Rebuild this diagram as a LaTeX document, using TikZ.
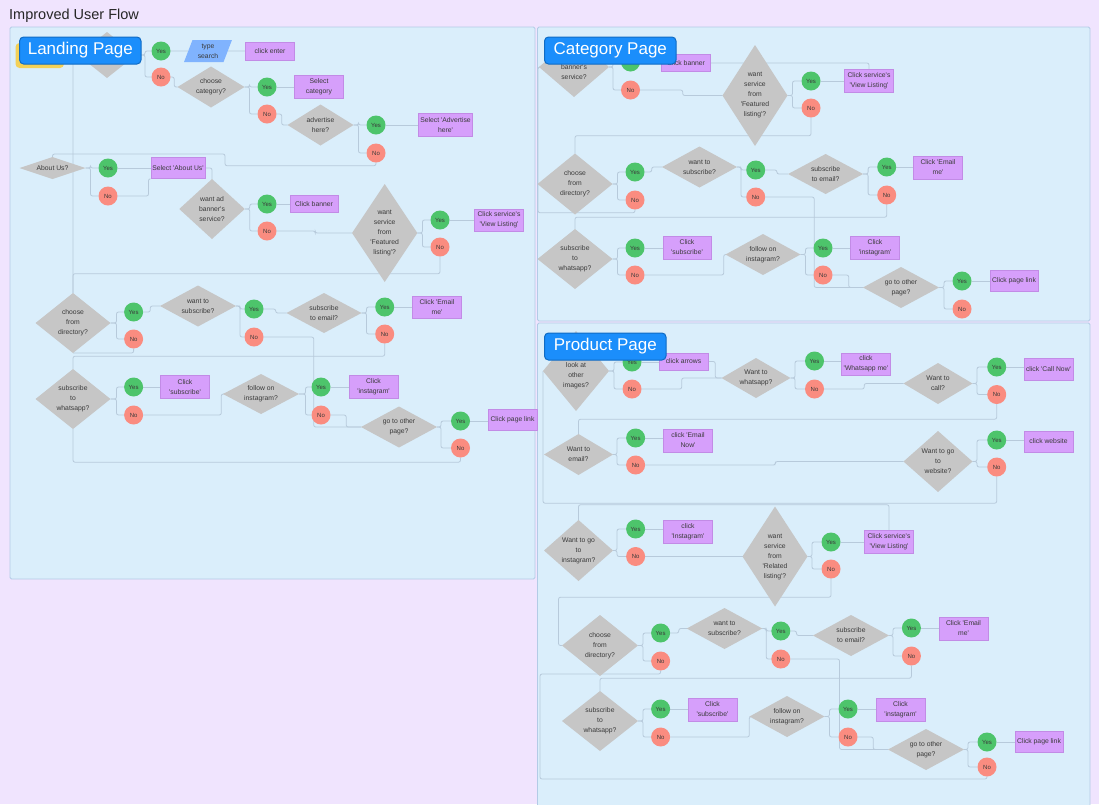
\documentclass[tikz,border=0pt]{standalone}
\usepackage{fontspec}
\setmainfont{Liberation Sans}[Ligatures=TeXOff]
\usetikzlibrary{shapes.geometric}
\pgfdeclarelayer{back}
\pgfdeclarelayer{lines}
\pgfdeclarelayer{front}
\pgfsetlayers{back,lines,main,front}

\definecolor{bgc}{HTML}{F0E4FE}
\definecolor{panelc}{HTML}{DAEEFB}
\definecolor{paneld}{HTML}{B3CBE6}
\definecolor{diac}{HTML}{C6C6C6}
\definecolor{yescol}{HTML}{4DC46B}
\definecolor{nocol}{HTML}{FA8C80}
\definecolor{actc}{HTML}{D69FFB}
\definecolor{actd}{HTML}{C28BE6}
\definecolor{linec}{HTML}{B7CADB}
\definecolor{badgec}{HTML}{1B8EFB}
\definecolor{badged}{HTML}{0F6BC4}
\definecolor{yelc}{HTML}{F3D157}
\definecolor{parac}{HTML}{80B3FE}
\definecolor{txtc}{HTML}{3A3A3A}
\definecolor{titc}{HTML}{262626}

\tikzset{
  panel/.style={fill=panelc, draw=paneld, line width=0.8pt, rounded corners=1.5pt},
  diashape/.style={diamond, fill=diac, draw=none, inner sep=0pt, outer sep=0pt},
  dtext/.style={align=center, text=txtc, font=\fontsize{6.8}{10}\selectfont, inner sep=0pt},
  yesn/.style={circle, fill=yescol, minimum size=19pt, inner sep=0pt, text=txtc, font=\fontsize{6}{7}\selectfont},
  non/.style={circle, fill=nocol, minimum size=19pt, inner sep=0pt, text=txtc, font=\fontsize{6}{7}\selectfont},
  act/.style={rectangle, fill=actc, draw=actd, line width=0.5pt, inner sep=0pt, align=center, text=txtc, font=\fontsize{6.8}{10}\selectfont},
  para/.style={trapezium, trapezium left angle=69, trapezium right angle=111, trapezium stretches=true,
    minimum width=48pt, minimum height=22pt, fill=parac, inner sep=0pt, align=center, text=txtc, font=\fontsize{6.8}{10}\selectfont},
  conn/.style={draw=linec, line width=0.8pt, rounded corners=2pt},
  badge/.style={rectangle, rounded corners=4pt, fill=badgec, draw=badged, line width=1pt, text=white, font=\fontsize{17}{20}\selectfont, inner sep=0pt},
}

\newcommand{\mkDia}[5]{\node[diashape, minimum width=#3pt, minimum height=#4pt] (#1) at (#2) {};\node[dtext] (#1t) at (#1) {#5};}
\newcommand{\mkYes}[2]{\node[yesn] (#1) at (#2) {Yes};}
\newcommand{\mkNo}[2]{\node[non] (#1) at (#2) {No};}
\newcommand{\mkAct}[5]{\node[act, minimum width=#3pt, minimum height=#4pt] (#1) at (#2) {#5};}
\newcommand{\mkSplit}[4]{\draw[conn] (#1.east) -- ++(#4,0) |- (#2.west); \draw[conn] (#1.east) -- ++(#4,0) |- (#3.west);}
\newcommand{\mkGo}[2]{\draw[conn] (#1.east) -- (#2.west |- #1.east);}

\begin{document}
\begin{tikzpicture}[x=1pt,y=-1pt]
\useasboundingbox (0,0) rectangle (1099,804);
\begin{pgfonlayer}{back}
\fill[bgc] (0,0) rectangle (1099,804);
\filldraw[panel] (10,27) rectangle (535,579);
\filldraw[panel] (537.5,27) rectangle (1090,321);
\filldraw[panel] (537.5,323) rectangle (1090,812);
\end{pgfonlayer}

\node[anchor=west, font=\fontsize{14.5}{17}\selectfont, text=titc, inner sep=0pt] (title) at (9,15.5) {Improved User Flow};
\fill[yelc, rounded corners=4pt] (15.5,43) rectangle (64,68);

% ---------------- Landing page ----------------
\mkDia{Ld0}{107,55}{58}{46}{}
\mkYes{Ly0}{161,51} \mkNo{Ln0}{161,77}
\node[para] (Lts) at (208,51) {type\\search};
\mkAct{Lenter}{270,51}{49}{18}{click enter}
\mkDia{Lcat}{211,87}{67}{41}{choose\\category?}
\mkYes{Ly1}{267,87} \mkNo{Ln1}{267,114}
\mkAct{Lselcat}{319,87}{49}{23}{Select\\category}
\mkDia{Ladv}{320.5,125}{66}{41}{advertise\\here?}
\mkYes{Ly2}{376,125} \mkNo{Ln2}{376,153}
\mkAct{Lseladv}{445.5,125}{54}{23}{Select 'Advertise\\here'}
\mkDia{Labout}{52.5,168}{66}{22}{About Us?}
\mkYes{Ly3}{108,168} \mkNo{Ln3}{108,196}
\mkAct{Lselab}{178,168}{54.5}{21}{Select 'About Us'}
\mkDia{Lban}{212,209}{65.5}{60}{want ad\\banner's\\service?}
\mkYes{Ly4}{267,204} \mkNo{Ln4}{267,231}
\mkAct{Lclkban}{314,204}{48}{17}{Click banner}
\mkDia{Lfeat}{384.7,233}{65.4}{98}{want\\service\\from\\'Featured\\listing'?}
\mkYes{Ly5}{440,220} \mkNo{Ln5}{440,247}
\mkAct{Lsvc}{499,220}{49}{22}{Click service's\\'View Listing'}
\mkDia{Ldir}{73,323}{75}{60}{choose\\from\\directory?}
\mkYes{Ly6}{133.6,312} \mkNo{Ln6}{133.6,339}
\mkDia{Lsub}{198,306}{76}{41}{want to\\subscribe?}
\mkYes{Ly7}{254,309} \mkNo{Ln7}{254,337}
\mkDia{Lem}{324,313}{75}{40}{subscribe\\to email?}
\mkYes{Ly8}{384.7,307} \mkNo{Ln8}{384.7,334}
\mkAct{Lemme}{437,307}{49}{22}{Click 'Email\\me'}
\mkDia{Lwa}{73,399}{75}{60}{subscribe\\to\\whatsapp?}
\mkYes{Ly9}{133.6,387} \mkNo{Ln9}{133.6,415}
\mkAct{Lclsub}{185,387}{49}{23}{Click\\'subscribe'}
\mkDia{Lig}{261,394}{76}{40}{follow on\\instagram?}
\mkYes{Ly10}{321,387} \mkNo{Ln10}{321,415}
\mkAct{Lclig}{373.5,387}{49}{23}{Click\\'instagram'}
\mkDia{Lgo}{399,427}{76}{41}{go to other\\page?}
\mkYes{Ly11}{460.5,421} \mkNo{Ln11}{460.5,448}
\mkAct{Lpage}{512.5,419.5}{49}{21}{Click page link}

% ---------------- Category page ----------------
\mkDia{Cban}{574,67}{70}{60}{}
\node[dtext] (Cbant) at (574,72) {banner's\\service?};
\mkYes{Cy0}{630.5,62} \mkNo{Cn0}{630.5,90}
\mkAct{Cclkban}{686,63}{48.7}{17}{Click banner}
\mkDia{Cfeat}{755,95.5}{65}{101}{want\\service\\from\\'Featured\\listing'?}
\mkYes{Cy1}{811,81} \mkNo{Cn1}{811,108}
\mkAct{Csvc}{869,80.5}{48.6}{23}{Click service's\\'View Listing'}
\mkDia{Cdir}{575,184}{75}{61}{choose\\from\\directory?}
\mkYes{Cy2}{635,172} \mkNo{Cn2}{635,200}
\mkDia{Csub}{699.5,167}{75}{41}{want to\\subscribe?}
\mkYes{Cy3}{755.7,170} \mkNo{Cn3}{755.7,197}
\mkDia{Cem}{825.6,174}{75}{40}{subscribe\\to email?}
\mkYes{Cy4}{886.7,167} \mkNo{Cn4}{886.7,195}
\mkAct{Cemme}{938,167.5}{48.6}{23}{Click 'Email\\me'}
\mkDia{Cwa}{575,259}{75}{60}{subscribe\\to\\whatsapp?}
\mkYes{Cy5}{635,248} \mkNo{Cn5}{635,275}
\mkAct{Cclsub}{687,247.5}{48}{23}{Click\\'subscribe'}
\mkDia{Cig}{763,254.5}{75}{41}{follow on\\instagram?}
\mkYes{Cy6}{823,248} \mkNo{Cn6}{823,275}
\mkAct{Cclig}{875,247.5}{48.6}{23}{Click\\'instagram'}
\mkDia{Cgo}{901,287.5}{76}{41}{go to other\\page?}
\mkYes{Cy7}{962,281} \mkNo{Cn7}{962,309}
\mkAct{Cpage}{1014,280.5}{48}{21}{Click page link}

% ---------------- Product page ----------------
\mkDia{Plook}{576,371}{66}{80}{}
\node[dtext] (Plookt) at (576,376) {look at\\other\\images?};
\mkYes{Py0}{632,362} \mkNo{Pn0}{632,389}
\mkAct{Parrows}{683.5,361.5}{49}{17}{click arrows}
\mkDia{Pwa}{756,378}{69}{40}{Want to\\whatsapp?}
\mkYes{Py1}{814.5,361} \mkNo{Pn1}{814.5,389}
\mkAct{Pwame}{866,364}{48.6}{22}{click\\'Whatsapp me'}
\mkDia{Pcall}{938,383.5}{69}{41}{Want to\\call?}
\mkYes{Py2}{996.7,367} \mkNo{Pn2}{996.7,394.5}
\mkAct{Pcallnow}{1048.5,369}{49}{22}{click 'Call Now'}
\mkDia{Pemail}{578.5,454.5}{69}{41}{Want to\\email?}
\mkYes{Py3}{635.6,438} \mkNo{Pn3}{635.6,465}
\mkAct{Pemnow}{688,440.5}{48.6}{23}{click 'Email\\Now'}
\mkDia{Pweb}{938,461.5}{69}{61}{Want to go\\to\\website?}
\mkYes{Py4}{996.7,440} \mkNo{Pn4}{996.7,467}
\mkAct{Pwebc}{1048.5,441.5}{49}{21}{click website}
\mkDia{Pinsta}{578.5,550.5}{69}{61}{Want to go\\to\\instagram?}
\mkYes{Py5}{635.6,529} \mkNo{Pn5}{635.6,556.5}
\mkAct{Pclinsta}{688,531.5}{48.6}{23}{click\\'Instagram'}
\mkDia{Prel}{775,556.5}{65}{100}{want\\service\\from\\'Related\\listing'?}
\mkYes{Py6}{831,542} \mkNo{Pn6}{831,569}
\mkAct{Psvc}{889,541.5}{48.6}{23}{Click service's\\'View Listing'}
\mkDia{Pdir}{600,645.5}{76}{61}{choose\\from\\directory?}
\mkYes{Py7}{660.6,633} \mkNo{Pn7}{660.6,661}
\mkDia{Psub}{724.5,628.5}{75.5}{41}{want to\\subscribe?}
\mkYes{Py8}{780.8,631} \mkNo{Pn8}{780.8,659}
\mkDia{Pem}{851,635.5}{76}{41}{subscribe\\to email?}
\mkYes{Py9}{911.4,628} \mkNo{Pn9}{911.4,656}
\mkAct{Pemme}{963.5,628.5}{49}{23}{Click 'Email\\me'}
\mkDia{Pwhats}{600,721}{76}{60}{subscribe\\to\\whatsapp?}
\mkYes{Py10}{660.6,709} \mkNo{Pn10}{660.6,737}
\mkAct{Pclsub}{712.5,709.5}{49}{23}{Click\\'subscribe'}
\mkDia{Pig}{787,716.5}{75}{41}{follow on\\instagram?}
\mkYes{Py11}{848,709} \mkNo{Pn11}{848,737}
\mkAct{Pclig}{900.5,709.5}{49}{23}{Click\\'instagram'}
\mkDia{Pgo}{926,749.5}{76}{41}{go to other\\page?}
\mkYes{Py12}{987,742} \mkNo{Pn12}{987,767}
\mkAct{Ppage}{1039,742}{48}{21}{Click page link}

% ---------------- Connectors ----------------
\begin{pgfonlayer}{lines}
% landing
\mkSplit{Ld0}{Ly0}{Ln0}{9}
\draw[conn] (Ly0.east) -- (Lts.west);
\draw[conn] (Lts.east) -- (Lenter.west);
\draw[conn] (Ln0.east) -- ++(3.5,0) |- (Lcat.west);
\mkSplit{Lcat}{Ly1}{Ln1}{5}
\mkGo{Ly1}{Lselcat}
\draw[conn] (Ln1.east) -- ++(5,0) |- (Ladv.west);
\mkSplit{Ladv}{Ly2}{Ln2}{5}
\mkGo{Ly2}{Lseladv}
\draw[conn] (Ln2.south) -- ++(0,3) -| (225,154) -| (Labout.north);
\mkSplit{Labout}{Ly3}{Ln3}{5}
\mkGo{Ly3}{Lselab}
\draw[conn] (Ln3.east) -| ([xshift=-2pt]Lselab.south west) -- (Lselab.south west);
\draw[conn] (Lselab.east) -| (Lban.north);
\mkSplit{Lban}{Ly4}{Ln4}{5}
\mkGo{Ly4}{Lclkban}
\draw[conn] (Ln4.east) -- ++(38.5,0) |- (Lfeat.west);
\mkSplit{Lfeat}{Ly5}{Ln5}{5}
\mkGo{Ly5}{Lsvc}
\draw[conn] (Ln5.south) -- ++(0,17) -| (Ldir.north);
\draw[conn] (Ld0.west) -| (Ldir.north);
\mkSplit{Ldir}{Ly6}{Ln6}{6}
\draw[conn] (Ly6.east) -- ++(7,0) |- (Lsub.west);
\draw[conn] (Ln6.south) |- (Ldir.south);
\mkSplit{Lsub}{Ly7}{Ln7}{4}
\draw[conn] (Ly7.east) -- ++(12,0) |- (Lem.west);
\draw[conn] (Ln7.east) -- ++(50,0) |- (Lgo.west);
\mkSplit{Lem}{Ly8}{Ln8}{5}
\mkGo{Ly8}{Lemme}
\draw[conn] (Ln8.south) -- ++(0,12.5) -| (Lwa.north);
\mkSplit{Lwa}{Ly9}{Ln9}{6}
\mkGo{Ly9}{Lclsub}
\draw[conn] (Ln9.east) -- ++(78,0) |- (Lig.west);
\mkSplit{Lig}{Ly10}{Ln10}{6.5}
\mkGo{Ly10}{Lclig}
\draw[conn] (Ln10.east) -- ++(15.5,0) |- (Lgo.west);
\mkSplit{Lgo}{Ly11}{Ln11}{4}
\mkGo{Ly11}{Lpage}
\draw[conn] (Ln11.south) -- ++(0,4.5) -| (Lwa.south);
% category
\mkSplit{Cban}{Cy0}{Cn0}{4}
\mkGo{Cy0}{Cclkban}
\draw[conn] (Cclkban.east) -| (Csvc.north);
\draw[conn] (Cn0.east) -- ++(42.5,0) |- (Cfeat.west);
\mkSplit{Cfeat}{Cy1}{Cn1}{5}
\mkGo{Cy1}{Csvc}
\draw[conn] (Cn1.south) -- ++(0,18) -| (Cdir.north);
\mkSplit{Cdir}{Cy2}{Cn2}{5}
\draw[conn] (Cy2.east) -- ++(7,0) |- (Csub.west);
\draw[conn] (Cn2.south) -- ++(0,3) -| ([xshift=-1pt]Cban.west) -- (Cban.west);
\mkSplit{Csub}{Cy3}{Cn3}{4}
\draw[conn] (Cy3.east) -- ++(11.5,0) |- (Cem.west);
\draw[conn] (Cn3.east) -- ++(48.8,0) |- (Cgo.west);
\mkSplit{Cem}{Cy4}{Cn4}{5}
\mkGo{Cy4}{Cemme}
\draw[conn] (Cn4.south) -- ++(0,12.5) -| (Cwa.north);
\mkSplit{Cwa}{Cy5}{Cn5}{5}
\mkGo{Cy5}{Cclsub}
\draw[conn] (Cn5.east) -- ++(79,0) |- (Cig.west);
\mkSplit{Cig}{Cy6}{Cn6}{5}
\mkGo{Cy6}{Cclig}
\draw[conn] (Cn6.east) -- ++(16,0) |- (Cgo.west);
\mkSplit{Cgo}{Cy7}{Cn7}{5}
\mkGo{Cy7}{Cpage}
% product
\mkSplit{Plook}{Py0}{Pn0}{5}
\mkGo{Py0}{Parrows}
\draw[conn] (Parrows.east) -- ++(7,0) |- (Pwa.west);
\draw[conn] (Pn0.east) -- ++(40,0) |- (Pwa.west);
\mkSplit{Pwa}{Py1}{Pn1}{4.5}
\mkGo{Py1}{Pwame}
\draw[conn] (Pn1.east) -- ++(40,0) |- (Pcall.west);
\mkSplit{Pcall}{Py2}{Pn2}{4.5}
\mkGo{Py2}{Pcallnow}
\draw[conn] (Pn2.south) -- ++(0,15) -| (Pemail.north);
\mkSplit{Pemail}{Py3}{Pn3}{4}
\mkGo{Py3}{Pemnow}
\draw[conn] (Pn3.east) -- ++(130,0) |- (Pweb.west);
\mkSplit{Pweb}{Py4}{Pn4}{4.5}
\mkGo{Py4}{Pwebc}
\draw[conn] (Pn4.south) -- ++(0,26.5) -| (Plook.west);
\draw[conn] (Psvc.north) -- ++(0,-25) -| (Pinsta.north);
\mkSplit{Pinsta}{Py5}{Pn5}{4}
\mkGo{Py5}{Pclinsta}
\draw[conn] (Pn5.east) -- (Prel.west);
\mkSplit{Prel}{Py6}{Pn6}{4.5}
\mkGo{Py6}{Psvc}
\draw[conn] (Pn6.south) -- ++(0,18.5) -| ([xshift=-3.5pt]Pdir.west) -- (Pdir.west);
\mkSplit{Pdir}{Py7}{Pn7}{5}
\draw[conn] (Py7.east) -- ++(8.5,0) |- (Psub.west);
\draw[conn] (Pn7.south) |- (540,674) |- (987,779) -- (Pn12.south);
\mkSplit{Psub}{Py8}{Pn8}{4}
\draw[conn] (Py8.east) -- ++(6,0) |- (Pem.west);
\draw[conn] (Pn8.east) -- ++(49,0) |- (Pgo.west);
\mkSplit{Pem}{Py9}{Pn9}{4}
\mkGo{Py9}{Pemme}
\draw[conn] (Pn9.south) -- ++(0,12.5) -| (Pwhats.north);
\mkSplit{Pwhats}{Py10}{Pn10}{5}
\mkGo{Py10}{Pclsub}
\draw[conn] (Pn10.east) -- ++(79,0) |- (Pig.west);
\mkSplit{Pig}{Py11}{Pn11}{5}
\mkGo{Py11}{Pclig}
\draw[conn] (Pn11.east) -- ++(15.5,0) |- (Pgo.west);
\mkSplit{Pgo}{Py12}{Pn12}{4}
\mkGo{Py12}{Ppage}
\end{pgfonlayer}

% ---------------- Badges ----------------
\begin{pgfonlayer}{front}
\node[badge, minimum width=121.4pt, minimum height=27pt] (Lbadge) at (80.3,50.5) {Landing Page};
\node[badge, minimum width=131.5pt, minimum height=27pt] (Cbadge) at (610.25,50.5) {Category Page};
\node[badge, minimum width=121.5pt, minimum height=27pt] (Pbadge) at (605.25,346.5) {Product Page};
\end{pgfonlayer}
\end{tikzpicture}
\end{document}
